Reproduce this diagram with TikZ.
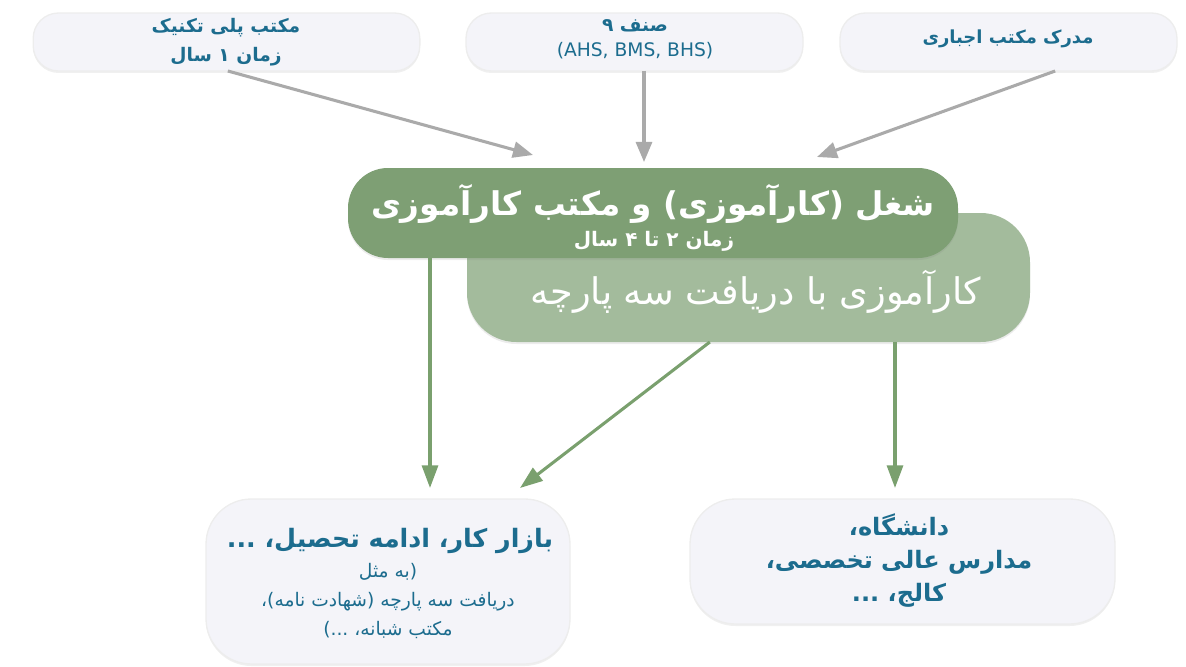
\documentclass[tikz,border=0pt]{standalone}
\usepackage{fontspec}
\setmainfont{DejaVu Sans}
\newfontfamily\arabicfont[Script=Arabic]{DejaVu Sans}
\TeXXeTstate=1
\usetikzlibrary{
arrows.meta,
positioning,
shadows
}
\newcommand{\fa}[1]{{\arabicfont\beginR #1\endR}}

\begin{document}
\begin{tikzpicture}[x=0.75pt, y=-0.75pt, font=\arabicfont]
		\definecolor{boxfill}{RGB}{244,244,249}
		\definecolor{textblue}{RGB}{28,108,142}
		\definecolor{greendark}{RGB}{126,159,116}
		\definecolor{greenlight}{RGB}{163,187,156}
		\definecolor{greenline}{RGB}{122,160,110}
		\definecolor{grayline}{RGB}{170,170,170}
		\tikzset{lightbox/.style={rectangle,fill=boxfill,draw=black!7,line width=1pt,inner sep=0pt,outer sep=0pt,
			drop shadow={shadow xshift=0pt,shadow yshift=-1.5pt,opacity=0.12}}}
		\tikzset{greenbox/.style={rectangle,inner sep=0pt,outer sep=0pt,
			drop shadow={shadow xshift=0pt,shadow yshift=-1.5pt,opacity=0.15}}}
		\tikzset{bluetext/.style={text=textblue,align=center}}
		\tikzset{whitetext/.style={text=white,align=center}}
		\tikzset{grayarrow/.style={-{Triangle[length=15pt,width=12pt]},line width=2.3pt,draw=grayline}}
		\tikzset{greenarrow/.style={-{Triangle[length=17pt,width=12pt]},line width=2.3pt,draw=greenline}}

		\useasboundingbox (0,0) rectangle (1186,667);

		% Entry boxes at the top
		\node[lightbox,rounded corners=19pt,minimum width=290pt,minimum height=43.5pt] (poly) at (226.5,42) {};
		\node[bluetext,font=\arabicfont\bfseries\fontsize{14}{21.5}\selectfont] (polytext) at (226,42)
			{\fa{مکتب پلی تکنیک}\\\fa{زمان ۱ سال}};

		\node[lightbox,rounded corners=19pt,minimum width=252.75pt,minimum height=43.5pt] (grade) at (634.5,42) {};
		\node[bluetext,font=\fontsize{14}{18.5}\selectfont] (gradetext) at (635,39)
			{\fa{\bfseries صنف ۹}\\(AHS, BMS, BHS)};

		\node[lightbox,rounded corners=19pt,minimum width=252.75pt,minimum height=43.5pt] (cert) at (1008.5,42) {};
		\node[bluetext,font=\arabicfont\bfseries\fontsize{13.5}{18}\selectfont] (certtext) at (1008,39)
			{\fa{مدرک مکتب اجباری}};

		% Apprenticeship
		\node[greenbox,fill=greenlight,rounded corners=37pt,minimum width=422.25pt,minimum height=96.75pt] (apprent) at (748.5,277.5) {};
		\node[whitetext,font=\arabicfont\fontsize{27.5}{30}\selectfont] (apprenttext) at (756,292)
			{\fa{کارآموزی با دریافت سه پارچه}};

		\node[greenbox,fill=greendark,rounded corners=30pt,minimum width=457.5pt,minimum height=67.5pt] (main) at (653,213) {};
		\node[whitetext,font=\arabicfont\bfseries\fontsize{24.5}{28}\selectfont] (maintext) at (653,204)
			{\fa{شغل (کارآموزی) و مکتب کارآموزی}};
		\node[whitetext,font=\arabicfont\bfseries\fontsize{15}{18}\selectfont] (maintime) at (654,241)
			{\fa{زمان ۲ تا ۴ سال}};

		% Outcomes
		\node[lightbox,rounded corners=34pt,minimum width=273pt,minimum height=123.75pt] (job) at (388,581.5) {};
		\node[bluetext,font=\arabicfont\bfseries\fontsize{19}{22}\selectfont] (jobtext) at (390,541)
			{\fa{بازار کار، ادامه تحصیل، ...}};
		\node[bluetext,font=\arabicfont\fontsize{14}{22}\selectfont] (jobnote) at (388,601)
			{\fa{(به مثل}\\\fa{دریافت سه پارچه (شهادت نامه)،}\\\fa{مکتب شبانه، ...)}};

		\node[lightbox,rounded corners=34pt,minimum width=318.75pt,minimum height=93.75pt] (uni) at (902.5,561.5) {};
		\node[bluetext,font=\arabicfont\bfseries\fontsize{18}{24.75}\selectfont] (unitext) at (899,561)
			{\fa{دانشگاه،}\\\fa{مدارس عالی تخصصی،}\\\fa{کالج، ...}};

		% Connectors
		\coordinate (polyin) at (533,155);
		\coordinate (gradein) at (644,162);
		\coordinate (certin) at (817,157);
		\draw[grayarrow] ([xshift=1pt]poly.south) -- (polyin);
		\draw[grayarrow] (grade.south -| gradein) -- (gradein);
		\draw[grayarrow] ([xshift=35pt]cert.south) -- (certin);

		\coordinate (jobin) at (430,488);
		\coordinate (jobin2) at (520,488);
		\coordinate (uniin) at (895,488);
		\draw[greenarrow] (main.south -| jobin) -- (jobin);
		\draw[greenarrow] ([xshift=-29pt]apprent.south) -- (jobin2);
		\draw[greenarrow] (apprent.south -| uniin) -- (uniin);
	\end{tikzpicture}
\end{document}
